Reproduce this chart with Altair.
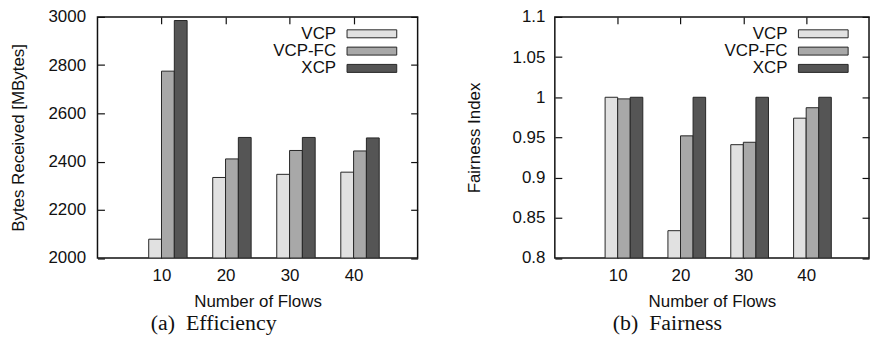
import altair as alt
import pandas as pd

# ---------------- data ----------------
flows = [10, 20, 30, 40]
series = ["VCP", "VCP-FC", "XCP"]

bytes_vcp = [2078, 2334, 2347, 2356]
bytes_vcpfc = [2775, 2411, 2446, 2444]
bytes_xcp = [2985, 2500, 2500, 2498]

fair_vcp = [1.0, 0.834, 0.941, 0.974]
fair_vcpfc = [0.998, 0.952, 0.944, 0.987]
fair_xcp = [1.0, 1.0, 1.0, 1.0]

bytes_ticks = [2000, 2200, 2400, 2600, 2800, 3000]
fair_ticks = [0.8, 0.85, 0.9, 0.95, 1.0, 1.05, 1.1]

colors = ["#e1e1e1", "#a8a8a8", "#555555"]
captions = ["(a)\u2002Efficiency", "(b)\u2002Fairness"]
y_titles = ["Bytes Received [MBytes]", "Fairness Index"]
x_title = "Number of Flows"

SANS = "Liberation Sans"
SERIF = "Liberation Serif"
BAR_W = 2  # bar width in "flows" units (clustered, 3 bars per group)


def long_df(cols):
    rows = []
    for k, (s, vals) in enumerate(zip(series, cols)):
        for f, v in zip(flows, vals):
            rows.append({"flows": f, "series": s, "value": v,
                         "x0": f + (k - 1) * BAR_W, "x1": f + k * BAR_W})
    return pd.DataFrame(rows)


def panel(df, ydomain, yticks, ytitle, caption, width, height, label_pad, title_pad, fmt):
    base = alt.Chart(df)
    xscale = alt.Scale(domain=[0, 50], nice=False, zero=False)
    yscale = alt.Scale(domain=ydomain, nice=False, zero=False)
    color = alt.Color("series:N", scale=alt.Scale(domain=series, range=colors), legend=None)

    bars = base.mark_bar(stroke="#262626", strokeWidth=1, clip=True).encode(
        x=alt.X("x0:Q", scale=xscale,
                axis=alt.Axis(orient="bottom", values=flows, format="d", offset=-7, tickSize=7,
                              labelPadding=10, title=x_title, titlePadding=10,
                              domain=False, grid=False)),
        x2="x1:Q",
        y=alt.Y("value:Q", scale=yscale,
                axis=alt.Axis(orient="left", values=yticks, format=fmt, offset=-7, tickSize=7,
                              labelPadding=label_pad, title=ytitle, titlePadding=title_pad,
                              domain=False, grid=False)),
        y2=alt.datum(ydomain[0]),
        color=color,
    )
    mirror = base.mark_bar(opacity=0, clip=True).encode(
        x=alt.X("x0:Q", scale=xscale,
                axis=alt.Axis(orient="top", values=flows, labels=False, offset=-7, tickSize=7,
                              title=None, domain=False, grid=False)),
        x2="x1:Q",
        y=alt.Y("value:Q", scale=yscale,
                axis=alt.Axis(orient="right", values=yticks, labels=False, offset=-7, tickSize=7,
                              title=None, domain=False, grid=False)),
        y2=alt.datum(ydomain[0]),
    )
    plot = alt.layer(bars, mirror)

    leg_df = pd.DataFrame({"series": series})
    leg_scale = alt.Scale(type="band", domain=series, range=[13, 55.8],
                          paddingInner=0.54, paddingOuter=0)
    leg_box = alt.Chart(leg_df).mark_rect(stroke="#262626", strokeWidth=1).encode(
        x=alt.value(width - 71), x2=alt.value(width - 21),
        y=alt.Y("series:N", scale=leg_scale, axis=None),
        color=color,
    )
    leg_txt = alt.Chart(leg_df).mark_text(align="right", baseline="middle", fontSize=17,
                                          font=SANS, color="#111").encode(
        x=alt.value(width - 82),
        y=alt.Y("series:N", scale=leg_scale, axis=None),
        text="series:N",
    )
    legend = alt.layer(leg_box, leg_txt)

    return alt.layer(plot, legend).resolve_scale(y="independent").properties(
        width=width, height=height,
        title=alt.Title(caption, orient="bottom", frame="bounds", anchor="middle",
                        font=SERIF, fontSize=22, fontWeight="normal", offset=3.5, color="#111"),
    )


left = panel(long_df([bytes_vcp, bytes_vcpfc, bytes_xcp]), [2000, 3000], bytes_ticks,
             y_titles[0], captions[0], 322, 242.5, 12, 21, "d")
right = panel(long_df([fair_vcp, fair_vcpfc, fair_xcp]), [0.8, 1.1], fair_ticks,
              y_titles[1], captions[1], 316, 242.5, 10, 29, "~g")

chart = alt.hconcat(left, right, spacing=45).properties(
    padding={"top": -2, "left": 0, "right": 0, "bottom": 0}
).configure_view(
    stroke="#111", strokeWidth=1.5
).configure_axis(
    labelFont=SANS, labelFontSize=17, labelColor="#111",
    titleFont=SANS, titleFontSize=17, titleFontWeight="normal", titleColor="#111",
    tickColor="#111", tickWidth=1.2,
)

chart.save("out.html", embed_options={"renderer": "svg", "actions": False})
